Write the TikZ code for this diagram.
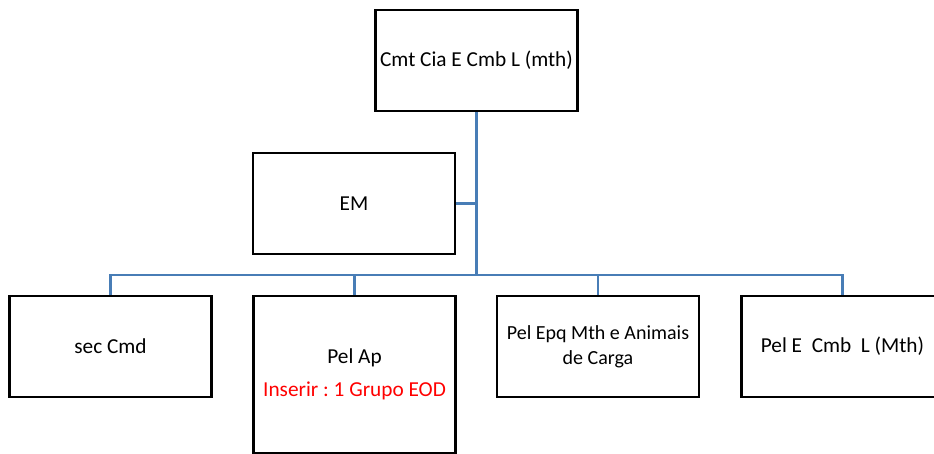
\documentclass[tikz,border=0pt]{standalone}
\usepackage{fontspec}
\setmainfont{Carlito}
\frenchspacing
\definecolor{linkblue}{RGB}{72,125,182}
\definecolor{notered}{RGB}{255,0,0}
\begin{document}
\begin{tikzpicture}[x=1pt,y=-1pt,
  unit/.style={draw=black, line width=2.4pt, fill=white, inner sep=0pt,
    minimum width=202pt, minimum height=101pt, align=center,
    font=\fontsize{21.3}{26}\selectfont},
  link/.style={draw=linkblue, line width=2.3pt}]
\useasboundingbox (0,0) rectangle (934,454);
% units
\node[unit] (cmt) at (476.5,60.5) {Cmt Cia E Cmb L (mth)};
\node[unit] (em) at (354,203.5) {EM};
\node[unit] (sec) at (110.5,346.5) {sec Cmd};
\node[unit, minimum height=157pt] (ap) at (354.5,374.5) {Pel Ap\\[7pt]\textcolor{notered}{Inserir : 1 Grupo EOD}};
\node[unit, font=\fontsize{20}{25}\selectfont] (epq) at (598,346.5) {Pel Epq Mth e Animais\\de Carga};
\node[unit] (pele) at (842.5,346.5) {Pel E~~Cmb~~L (Mth)};
% connectors
\coordinate (bar) at (476.5,275);
\draw[link] (cmt.south) -- (bar);
\draw[link] (em.east) -- (em.east -| cmt.south);
\draw[link] (sec.north) |- (bar) -| (pele.north);
\draw[link] (ap.north) -- (ap.north |- bar);
\draw[link] (epq.north) -- (epq.north |- bar);
\end{tikzpicture}
\end{document}
